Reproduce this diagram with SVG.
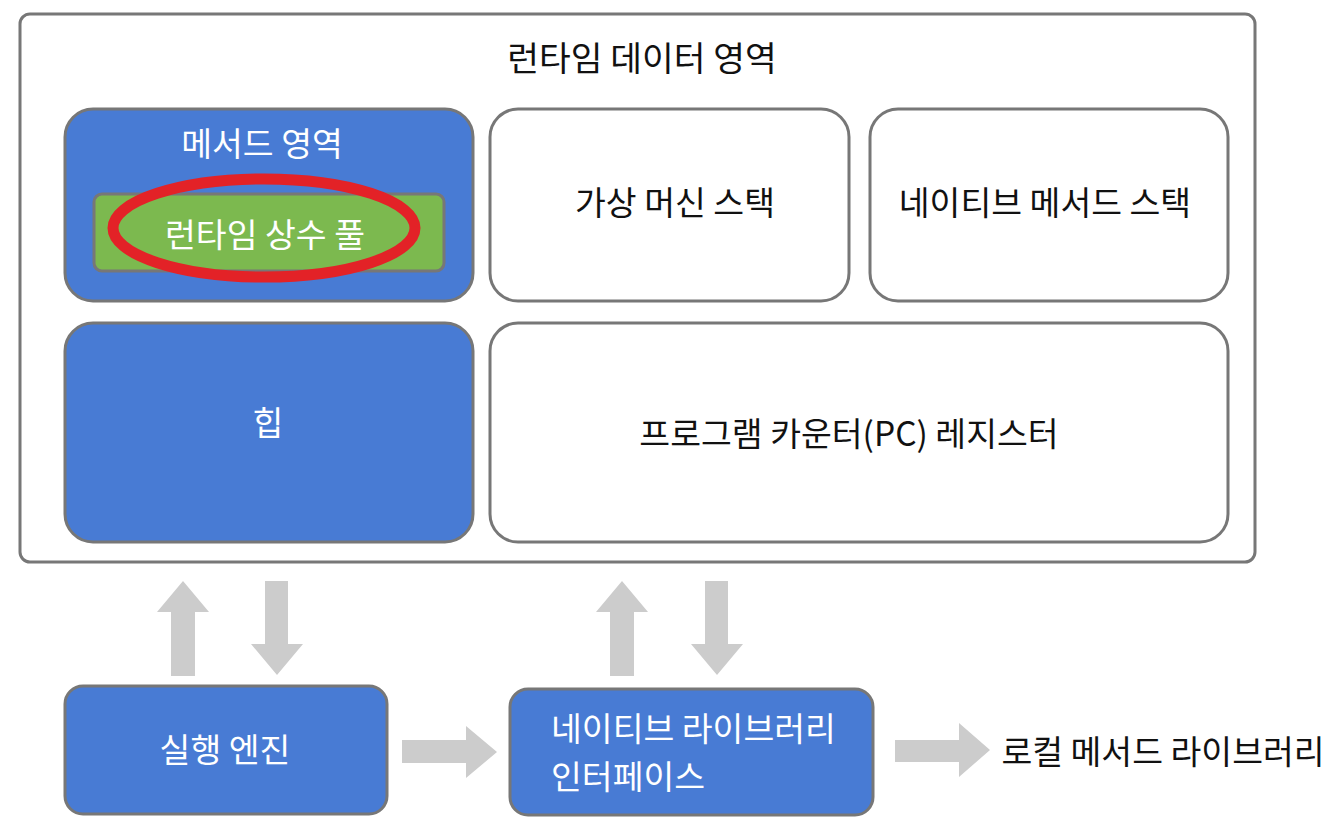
<svg xmlns="http://www.w3.org/2000/svg" width="1344" height="822" viewBox="0 0 1344 822">
<style>
.box{stroke:#777777;stroke-width:3}
.blue{fill:#487bd4}
.white{fill:#ffffff}
.t{font-family:"Noto Sans CJK KR","Noto Sans",sans-serif;font-size:33.5px;text-anchor:middle;dominant-baseline:central}
.tw{fill:#ffffff}
.tb{fill:#111111}
.arr{fill:#cccccc}
</style>
<g id="runtime-data-area">
<rect class="box" x="20" y="14" width="1235" height="548" rx="10" fill="#ffffff"/>
<text class="t tb" x="642" y="56" style="font-size:34.5px">런타임 데이터 영역</text>
</g>
<g id="method-area">
<rect class="box blue" x="65" y="109" width="408" height="192" rx="28"/>
<text class="t tw" x="262" y="141">메서드 영역</text>
</g>
<g id="runtime-constant-pool">
<rect class="box" x="94" y="194" width="350" height="77" rx="8" fill="#7cb94f"/>
<text class="t tw" x="265" y="232">런타임 상수 풀</text>
<ellipse cx="264" cy="228" rx="151" ry="49" fill="none" stroke="#e32227" stroke-width="11"/>
</g>
<g id="vm-stack">
<rect class="box white" x="490" y="109" width="359" height="192" rx="28"/>
<text class="t tb" x="675" y="200">가상 머신 스택</text>
</g>
<g id="native-method-stack">
<rect class="box white" x="870" y="109" width="358" height="192" rx="28"/>
<text class="t tb" x="1045" y="200">네이티브 메서드 스택</text>
</g>
<g id="heap">
<rect class="box blue" x="65" y="323" width="408" height="219" rx="28"/>
<text class="t tw" x="268" y="420">힙</text>
</g>
<g id="pc-register">
<rect class="box white" x="490" y="323" width="738" height="219" rx="28"/>
<text class="t tb" x="849" y="431">프로그램 카운터(PC) 레지스터</text>
</g>
<g id="execution-engine">
<rect class="box blue" x="65" y="686" width="322" height="128" rx="18"/>
<text class="t tw" x="225" y="747">실행 엔진</text>
</g>
<g id="native-library-interface">
<rect class="box blue" x="510" y="689" width="363" height="126" rx="18"/>
<text class="t tw" x="551" y="726" style="text-anchor:start">네이티브 라이브러리</text>
<text class="t tw" x="551" y="774" style="text-anchor:start">인터페이스</text>
</g>
<g id="local-method-library">
<text class="t tb" x="1163" y="749">로컬 메서드 라이브러리</text>
</g>
<g id="connectors">
<polygon class="arr" points="171,676 171,612 157,612 183,581 209,612 195,612 195,676"/>
<polygon class="arr" points="265,581 288,581 288,644 303,644 277,675 251,644 265,644"/>
<polygon class="arr" points="610,676 610,612 596,612 622,581 648,612 634,612 634,676"/>
<polygon class="arr" points="705,581 728,581 728,644 743,644 717,675 691,644 705,644"/>
<polygon class="arr" points="402,740 466,740 466,726 497,752 466,778 466,763 402,763"/>
<polygon class="arr" points="895,740 959,740 959,723 990,750 959,777 959,762 895,762"/>
</g>
</svg>
